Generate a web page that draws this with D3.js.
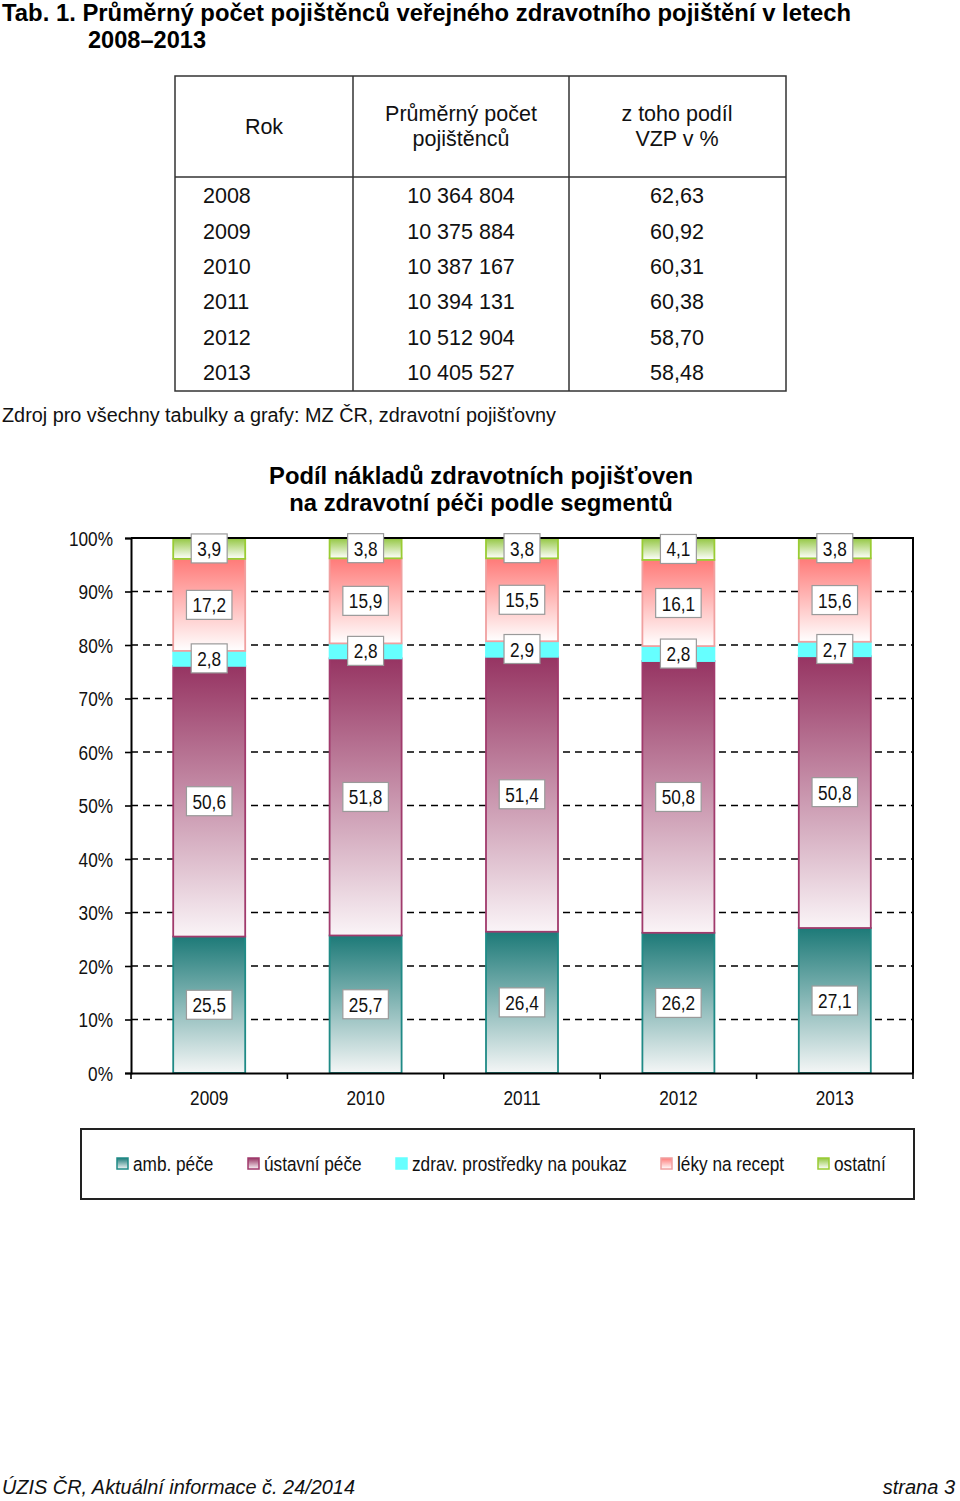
<!DOCTYPE html>
<html>
<head>
<meta charset="utf-8">
<script src="https://cdn.jsdelivr.net/npm/d3@7"></script>
<style>
html,body{margin:0;padding:0;background:#fff;}
svg{display:block;}
</style>
</head>
<body>
<svg id="c" width="960" height="1501"></svg>
<script>
// ---- data ----
const tableYears = ["2008","2009","2010","2011","2012","2013"];
const tablePocet = ["10 364 804","10 375 884","10 387 167","10 394 131","10 512 904","10 405 527"];
const tableVZP = ["62,63","60,92","60,31","60,38","58,70","58,48"];

const years = ["2009","2010","2011","2012","2013"];
const ambPece = [25.5,25.7,26.4,26.2,27.1];
const ustavniPece = [50.6,51.8,51.4,50.8,50.8];
const zdravProstredky = [2.8,2.8,2.9,2.8,2.7];
const lekyNaRecept = [17.2,15.9,15.5,16.1,15.6];
const ostatni = [3.9,3.8,3.8,4.1,3.8];
const seriesNames = ["amb. péče","ústavní péče","zdrav. prostředky na poukaz","léky na recept","ostatní"];
const yTicks = [0,10,20,30,40,50,60,70,80,90,100];

// ---- styles ----
const SANS = "'Liberation Sans',Arial,sans-serif";
const NS = 0.84; // horizontal squeeze to imitate a narrow face
const seriesStyle = [
  {top:"#1d7a78", bottom:"#f4f6f6", stroke:"#1f8a86"},
  {top:"#963462", bottom:"#faf4f7", stroke:"#a03a6c"},
  {top:"#66ffff", bottom:"#66ffff", stroke:"#66ffff"},
  {top:"#ff7a78", bottom:"#ffffff", stroke:"#f0a0a0"},
  {top:"#92c640", bottom:"#ffffff", stroke:"#99cc33"}
];

const svg = d3.select("#c");
const defs = svg.append("defs");
seriesStyle.forEach((s,i)=>{
  const g = defs.append("linearGradient").attr("id","g"+i).attr("x1",0).attr("y1",0).attr("x2",0).attr("y2",1);
  g.append("stop").attr("offset","0%").attr("stop-color",s.top);
  g.append("stop").attr("offset","100%").attr("stop-color",s.bottom);
});

// narrow text helper
function ntext(parent, x, y, str, size, anchor){
  return parent.append("text")
    .attr("transform",`translate(${x},${y}) scale(${NS},1)`)
    .attr("text-anchor",anchor||"start")
    .attr("font-family",SANS).attr("font-size",size).attr("fill","#111")
    .text(str);
}

// ---- page title ----
svg.append("text").attr("x",2).attr("y",21).attr("font-family",SANS).attr("font-weight","bold")
  .attr("font-size",23.5).attr("textLength",849).attr("lengthAdjust","spacingAndGlyphs")
  .text("Tab. 1. Průměrný počet pojištěnců veřejného zdravotního pojištění v letech");
svg.append("text").attr("x",88).attr("y",48).attr("font-family",SANS).attr("font-weight","bold")
  .attr("font-size",23.5).attr("textLength",118).attr("lengthAdjust","spacingAndGlyphs")
  .text("2008–2013");

// ---- table ----
const tb = svg.append("g");
const tx0=175, tx1=353, tx2=569, tx3=786, ty0=76, tyH=177, ty1=391;
tb.append("rect").attr("x",tx0).attr("y",ty0).attr("width",tx3-tx0).attr("height",ty1-ty0)
  .attr("fill","none").attr("stroke","#333").attr("stroke-width",1.5);
[tx1,tx2].forEach(x=>tb.append("line").attr("x1",x).attr("x2",x).attr("y1",ty0).attr("y2",ty1).attr("stroke","#333").attr("stroke-width",1.5));
tb.append("line").attr("x1",tx0).attr("x2",tx3).attr("y1",tyH).attr("y2",tyH).attr("stroke","#333").attr("stroke-width",1.5);
const th = (x,y,t)=>tb.append("text").attr("x",x).attr("y",y).attr("text-anchor","middle").attr("font-family",SANS).attr("font-size",21.5).attr("fill","#111").text(t);
th(264,134,"Rok");
th(461,121,"Průměrný počet");
th(461,146,"pojištěnců");
th(677,121,"z toho podíl");
th(677,146,"VZP v %");
const rowY = d3.scaleBand().domain(tableYears).range([tyH+1, ty1-1]);
tableYears.forEach((yr,i)=>{
  const yy = rowY(yr)+rowY.bandwidth()/2+7.5;
  tb.append("text").attr("x",203).attr("y",yy).attr("font-family",SANS).attr("font-size",21.5).attr("fill","#111").text(yr);
  tb.append("text").attr("x",461).attr("y",yy).attr("text-anchor","middle").attr("font-family",SANS).attr("font-size",21.5).attr("fill","#111").text(tablePocet[i]);
  tb.append("text").attr("x",677).attr("y",yy).attr("text-anchor","middle").attr("font-family",SANS).attr("font-size",21.5).attr("fill","#111").text(tableVZP[i]);
});
svg.append("text").attr("x",2).attr("y",422).attr("font-family",SANS).attr("font-size",19.5).attr("fill","#111")
  .attr("textLength",554).attr("lengthAdjust","spacingAndGlyphs")
  .text("Zdroj pro všechny tabulky a grafy: MZ ČR, zdravotní pojišťovny");

// ---- chart title ----
svg.append("text").attr("x",481).attr("y",484).attr("text-anchor","middle").attr("font-family",SANS).attr("font-weight","bold").attr("font-size",23.8)
  .text("Podíl nákladů zdravotních pojišťoven");
svg.append("text").attr("x",481).attr("y",511).attr("text-anchor","middle").attr("font-family",SANS).attr("font-weight","bold").attr("font-size",23.8)
  .text("na zdravotní péči podle segmentů");

// ---- chart ----
const L=131, R=913, T=538, B=1073;
const x = d3.scaleBand().domain(years).range([L,R]).paddingInner(0).paddingOuter(0);
const y = d3.scaleLinear().domain([0,100]).range([B,T]);
const barW = 72;

// gridlines
svg.append("g").selectAll("line").data(yTicks.filter(v=>v>0&&v<100)).join("line")
  .attr("x1",L).attr("x2",R).attr("y1",d=>y(d)).attr("y2",d=>y(d))
  .attr("stroke","#000").attr("stroke-width",1.6).attr("stroke-dasharray","7,5");

// stack
const stackData = years.map((yr,i)=>({year:yr, s0:ambPece[i], s1:ustavniPece[i], s2:zdravProstredky[i], s3:lekyNaRecept[i], s4:ostatni[i]}));
const stack = d3.stack().keys(["s0","s1","s2","s3","s4"])(stackData);

const bars = svg.append("g");
stack.forEach((layer,si)=>{
  bars.append("g").selectAll("rect").data(layer).join("rect")
    .attr("x",d=>x(d.data.year)+x.bandwidth()/2-barW/2)
    .attr("y",d=>y(d[1]))
    .attr("width",barW)
    .attr("height",d=>y(d[0])-y(d[1]))
    .attr("fill",`url(#g${si})`)
    .attr("stroke",seriesStyle[si].stroke).attr("stroke-width",1.8);
});

// frame: top + right
svg.append("path").attr("d",`M${L},${T}H${R}V${B}`).attr("fill","none").attr("stroke","#000").attr("stroke-width",2);

// axes
const yAxis = d3.axisLeft(y).tickValues(yTicks).tickSize(6).tickFormat(d=>d+"%");
const yg = svg.append("g").attr("transform",`translate(${L},0)`).call(yAxis);
yg.select(".domain").attr("stroke","#000").attr("stroke-width",2);
yg.selectAll(".tick line").attr("stroke","#000").attr("stroke-width",1.6);
yg.selectAll(".tick text").attr("font-family",SANS).attr("font-size",20.5).attr("fill","#111")
  .attr("x",-18/NS).attr("dy","0.35em").attr("transform",`scale(${NS},1)`);

const xAxis = d3.axisBottom(x).tickSize(0).tickPadding(0).tickFormat(d=>d);
const xg = svg.append("g").attr("transform",`translate(0,${B})`).call(xAxis);
xg.select(".domain").attr("stroke","#000").attr("stroke-width",2);
xg.selectAll(".tick text").attr("font-family",SANS).attr("font-size",20.5).attr("fill","#111")
  .attr("y",32).attr("dy",0).attr("transform",`scale(${NS},1)`);
// category separator ticks
xg.append("g").selectAll("line").data(years.concat(["end"])).join("line")
  .attr("x1",(d,i)=> i<years.length ? x(d) : R).attr("x2",(d,i)=> i<years.length ? x(d) : R)
  .attr("y1",0).attr("y2",6).attr("stroke","#000").attr("stroke-width",1.6);

// data labels
const lab = svg.append("g");
stack.forEach((layer,si)=>{
  layer.forEach(d=>{
    const cx = x(d.data.year)+x.bandwidth()/2;
    const cy = (y(d[0])+y(d[1]))/2;
    const g = lab.append("g");
    const t = ntext(g, cx, cy+7.5, d3.format(".1f")(d[1]-d[0]).replace(".",","), 20.5, "middle");
    const w = t.node().getBBox().width*NS;
    g.insert("rect","text").attr("x",cx-w/2-6).attr("y",cy-14.5).attr("width",w+12).attr("height",29)
      .attr("fill","#fff").attr("stroke","#9a9a9a").attr("stroke-width",1.2);
  });
});

// legend
const lg = svg.append("g");
lg.append("rect").attr("x",81).attr("y",1129).attr("width",833).attr("height",70)
  .attr("fill","#fff").attr("stroke","#222").attr("stroke-width",2);
const legX = [117,248,396,661,818];
seriesNames.forEach((n,i)=>{
  lg.append("rect").attr("x",legX[i]).attr("y",1158).attr("width",11).attr("height",11)
    .attr("fill",`url(#g${i})`).attr("stroke",seriesStyle[i].stroke).attr("stroke-width",1.5);
  ntext(lg, legX[i]+16, 1171, n, 20.5, "start");
});

// footer
svg.append("text").attr("x",2).attr("y",1494).attr("font-family",SANS).attr("font-style","italic").attr("font-size",21)
  .attr("textLength",353).attr("lengthAdjust","spacingAndGlyphs")
  .attr("fill","#111").text("ÚZIS ČR, Aktuální informace č. 24/2014");
svg.append("text").attr("x",955).attr("y",1494).attr("text-anchor","end").attr("font-family",SANS).attr("font-style","italic").attr("font-size",20)
  .attr("fill","#111").text("strana 3");
</script>
</body>
</html>
